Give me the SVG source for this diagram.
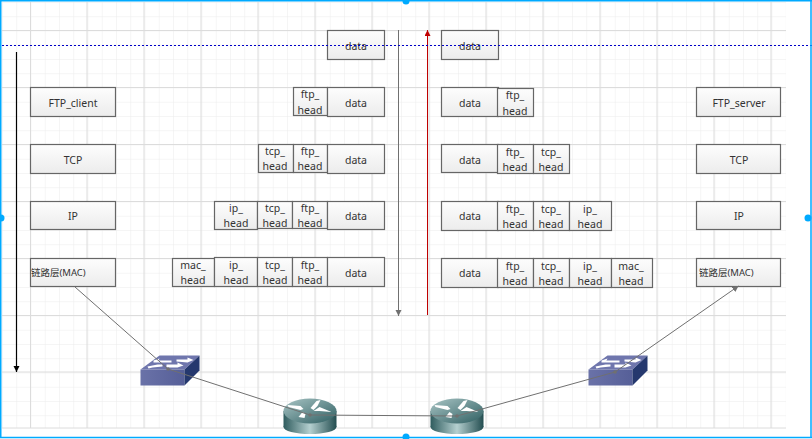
<svg xmlns="http://www.w3.org/2000/svg" width="812" height="439" viewBox="0 0 812 439">
<style>
.b{fill:url(#bg);stroke:#666;stroke-width:1.2}
text{font-family:"Noto Sans","DejaVu Sans",sans-serif;font-size:10.5px;fill:#333;text-anchor:middle}
.m{font-family:"Noto Sans","Noto Sans CJK SC",sans-serif;font-size:9.5px;text-anchor:start}
.c{fill:none;stroke:#707070;stroke-width:1}
.w{fill:#fff}
</style>
<defs>
<linearGradient id="bg" x1="0" y1="0" x2="0" y2="1"><stop offset="0" stop-color="#fdfdfd"/><stop offset="1" stop-color="#ececec"/></linearGradient>
<linearGradient id="cyl" x1="0" y1="0" x2="1" y2="0"><stop offset="0" stop-color="#2f5c5e"/><stop offset=".5" stop-color="#b5d0d0"/><stop offset="1" stop-color="#234d50"/></linearGradient>
<linearGradient id="top" x1="0" y1="0" x2="1" y2="1"><stop offset="0" stop-color="#a8c4c4"/><stop offset="1" stop-color="#2f5f62"/></linearGradient>
<linearGradient id="sw" x1="0" y1="0" x2="1" y2="0"><stop offset="0" stop-color="#6a72a8"/><stop offset="1" stop-color="#565f98"/></linearGradient>
<pattern id="gm" x="2" y="2" width="14.25" height="14.25" patternUnits="userSpaceOnUse"><path d="M0 0V14.25M0 0H14.25" fill="none" stroke="#ececec" stroke-width="1"/></pattern>
<marker id="ak" markerWidth="7" markerHeight="7" refX="6" refY="3" orient="auto" markerUnits="userSpaceOnUse"><path d="M0 0L6 3L0 6z" fill="#000"/></marker>
<marker id="ag" markerWidth="7" markerHeight="7" refX="6" refY="3" orient="auto" markerUnits="userSpaceOnUse"><path d="M0 0L6 3L0 6z" fill="#707070"/></marker>
<marker id="ar" markerWidth="7" markerHeight="7" refX="6" refY="3" orient="auto" markerUnits="userSpaceOnUse"><path d="M0 0L6 3L0 6z" fill="#c00000"/></marker>
<g id="switch"><polygon points="0,14 19,0 59,0 44,14" fill="#6f76ad"/><rect x="0" y="14" width="44" height="16" fill="url(#sw)"/><polygon points="44,14 59,0 59,15 44,30" fill="#25386e"/>
<g class="w"><polygon points="17,5 31,5 31,7 17,7"/><polygon points="36,4 47,4 47,2 53,4.500 47,7 36,6"/><polygon points="7,11 17,9 22,9 22,11 12,12 8,13"/><polygon points="26,9 37,9 37,7 43,10 37,12 26,12"/><polygon points="13,5 19,3 17,7 13,7"/></g></g>
<g id="router"><rect x="0" y="13" width="53" height="16" fill="url(#cyl)"/><ellipse cx="26.500" cy="29" rx="26.500" ry="7" fill="url(#cyl)"/><ellipse cx="26.500" cy="13" rx="26.500" ry="12.500" fill="url(#top)"/>
<g class="w"><polygon points="4,7 17,8 20,11 17,12 5,9"/><polygon points="27,10 33,3 37,2 34,8 30,12"/><polygon points="30,13 36,9 48,14 36,13"/><polygon points="15,19 19,14 22,16 21,20"/></g></g>
</defs>
<rect width="812" height="439" fill="#fff"/>
<rect x="2" y="2" width="784" height="426" fill="url(#gm)"/>
<path d="M2 30.500H786M2 87.500H786M2 144.500H786M2 201.500H786M2 258.500H786M2 315.500H786M2 372H786M2 428H786M30.500 2V428M87 2V428M144 2V428M201 2V428M258 2V428M315 2V428M372 2V428M429 2V428M486 2V428M543 2V428M600 2V428M657 2V428M714 2V428M771 2V428" fill="none" stroke="#dcdcdc" stroke-width="1"/>

<g id="sw1"><use href="#switch" x="140.500" y="355.500"/></g>
<g id="sw2"><use href="#switch" x="588.500" y="355.500"/></g>
<g id="r1"><use href="#router" x="283.500" y="398"/></g>
<g id="r2"><use href="#router" x="430.500" y="398"/></g>

<g id="n1"><rect class="b" x="30.500" y="87.500" width="85" height="29"/><text x="73" y="107">FTP_client</text></g>
<g id="n2"><rect class="b" x="30.500" y="144.500" width="85" height="29"/><text x="73" y="164">TCP</text></g>
<g id="n3"><rect class="b" x="30.500" y="201.500" width="85" height="28"/><text x="73" y="220">IP</text></g>
<g id="n4"><rect class="b" x="30.500" y="258.500" width="85" height="28"/><text class="m" x="31" y="276">链路层(MAC)</text></g>
<g id="n5"><rect class="b" x="696.500" y="87.500" width="84" height="29"/><text x="739" y="107">FTP_server</text></g>
<g id="n6"><rect class="b" x="696.500" y="144.500" width="84" height="29"/><text x="739" y="164">TCP</text></g>
<g id="n7"><rect class="b" x="696.500" y="201.500" width="84" height="28"/><text x="739" y="220">IP</text></g>
<g id="n8"><rect class="b" x="696.500" y="258.500" width="84" height="28"/><text class="m" x="699" y="276">链路层(MAC)</text></g>

<g id="d1"><rect class="b" x="327.500" y="30.500" width="57" height="29"/><text x="356" y="50">data</text></g>
<g id="d2"><rect class="b" x="441.500" y="30.500" width="57" height="29"/><text x="470" y="50">data</text></g>

<g id="l1"><rect class="b" x="293.500" y="87.500" width="34" height="28"/><text x="310" y="98">ftp_</text><text x="310" y="114">head</text><rect class="b" x="327.500" y="87.500" width="57" height="29"/><text x="356" y="107">data</text></g>
<g id="l2"><rect class="b" x="258.500" y="144.500" width="35" height="28"/><text x="275" y="155">tcp_</text><text x="275" y="170">head</text><rect class="b" x="293.500" y="144.500" width="34" height="28"/><text x="310" y="155">ftp_</text><text x="310" y="170">head</text><rect class="b" x="327.500" y="144.500" width="57" height="29"/><text x="356" y="164">data</text></g>
<g id="l3"><rect class="b" x="214.500" y="201.500" width="43" height="28"/><text x="236" y="212">ip_</text><text x="236" y="227">head</text><rect class="b" x="257.500" y="201.500" width="35" height="27"/><text x="275" y="212">tcp_</text><text x="275" y="227">head</text><rect class="b" x="292.500" y="201.500" width="35" height="27"/><text x="310" y="212">ftp_</text><text x="310" y="227">head</text><rect class="b" x="327.500" y="201.500" width="57" height="28"/><text x="356" y="220">data</text></g>
<g id="l4"><rect class="b" x="172.500" y="258.500" width="42" height="28"/><text x="193" y="269">mac_</text><text x="193" y="284">head</text><rect class="b" x="214.500" y="257.500" width="43" height="29"/><text x="236" y="269">ip_</text><text x="236" y="284">head</text><rect class="b" x="257.500" y="257.500" width="35" height="29"/><text x="275" y="269">tcp_</text><text x="275" y="284">head</text><rect class="b" x="292.500" y="257.500" width="35" height="29"/><text x="310" y="269">ftp_</text><text x="310" y="284">head</text><rect class="b" x="327.500" y="257.500" width="57" height="29"/><text x="356" y="277">data</text></g>

<g id="r1l"><rect class="b" x="441.500" y="87.500" width="57" height="29"/><text x="470" y="107">data</text><rect class="b" x="497.500" y="88.500" width="36" height="28"/><text x="515" y="99">ftp_</text><text x="515" y="115">head</text></g>
<g id="r2l"><rect class="b" x="441.500" y="144.500" width="57" height="28"/><text x="470" y="164">data</text><rect class="b" x="497.500" y="144.500" width="36" height="29"/><text x="515" y="156">ftp_</text><text x="515" y="171">head</text><rect class="b" x="533.500" y="144.500" width="36" height="29"/><text x="551" y="156">tcp_</text><text x="551" y="171">head</text></g>
<g id="r3l"><rect class="b" x="441.500" y="201.500" width="57" height="29"/><text x="470" y="220">data</text><rect class="b" x="497.500" y="201.500" width="36" height="29"/><text x="515" y="213">ftp_</text><text x="515" y="228">head</text><rect class="b" x="533.500" y="201.500" width="36" height="29"/><text x="551" y="213">tcp_</text><text x="551" y="228">head</text><rect class="b" x="569.500" y="201.500" width="42" height="29"/><text x="590" y="213">ip_</text><text x="590" y="228">head</text></g>
<g id="r4l"><rect class="b" x="441.500" y="258.500" width="57" height="29"/><text x="470" y="277">data</text><rect class="b" x="497.500" y="258.500" width="36" height="29"/><text x="515" y="270">ftp_</text><text x="515" y="285">head</text><rect class="b" x="533.500" y="258.500" width="36" height="29"/><text x="551" y="270">tcp_</text><text x="551" y="285">head</text><rect class="b" x="569.500" y="258.500" width="42" height="29"/><text x="590" y="270">ip_</text><text x="590" y="285">head</text><rect class="b" x="611.500" y="258.500" width="41" height="29"/><text x="631" y="270">mac_</text><text x="631" y="285">head</text></g>

<g id="connectors">
<path class="c" d="M75 287L168 369L310 415L457 416L615 372L738.500 286" marker-end="url(#ag)"/>
<path d="M16.500 52V372" fill="none" stroke="#000" stroke-width="1.200" marker-end="url(#ak)"/>
<path class="c" d="M398.500 30V316" marker-end="url(#ag)"/>
<path d="M427.500 315V30" fill="none" stroke="#c00000" stroke-width="1" marker-end="url(#ar)"/>
<g fill="#707070"><circle cx="168" cy="369" r="1.800"/><circle cx="310" cy="415" r="1.800"/><circle cx="457" cy="416" r="1.800"/><circle cx="615" cy="372" r="1.800"/></g>
</g>

<path d="M2 45.500H812" fill="none" stroke="#0000c8" stroke-width="1" stroke-dasharray="2 2"/>
<path d="M0 437.500H812M.750 0V437M0 .750H812M811 0V437" fill="none" stroke="#00aaff" stroke-width="1.500"/>
<g fill="#00aaff"><circle cx="406" cy="1" r="3.500"/><circle cx="406" cy="437" r="3.500"/><circle cx="1" cy="218" r="3.500"/><circle cx="808" cy="218" r="3.500"/></g>
</svg>
